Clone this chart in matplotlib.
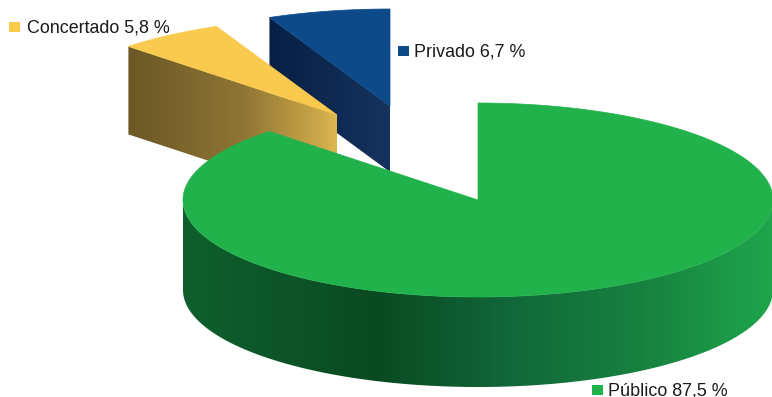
import numpy as np
import matplotlib
matplotlib.use("Agg")
import matplotlib.pyplot as plt
from matplotlib.colors import LinearSegmentedColormap as LSC
from matplotlib.patches import Polygon, Rectangle

labels = ["Público", "Concertado", "Privado"]
values = [87.5, 5.8, 6.7]
value_labels = ["87,5 %", "5,8 %", "6,7 %"]

TOP = {"Público": "#22b24c", "Concertado": "#f9ca4d", "Privado": "#0c4a8a"}
SIDE = {
    "Público": [(0, "#0f5f2e"), (.33, "#0a4a22"), (.55, "#11673a"), (.78, "#17823f"), (1, "#1fa54d")],
    "Concertado": [(0, "#6b5826"), (.55, "#8f7535"), (.9, "#c9a548"), (1, "#dcb64f")],
    "Privado": [(0, "#071f44"), (1, "#16335e")],
}
CENTRES = {"Público": (478, 200), "Concertado": (337, 115), "Privado": (390, 106)}
DEPTH = {"Público": 90, "Concertado": 88, "Privado": 66}
RX, RY = 295, 97
LABEL_POS = {"Público": (592, 390), "Concertado": (9, 27), "Privado": (398, 51)}
LABEL_GAP = {"Público": 16, "Concertado": 18, "Privado": 16}

fig = plt.figure(figsize=(7.72, 3.97), dpi=100)
ax = fig.add_axes([0, 0, 1, 1])
ax.set_axis_off()


def rim(c, a0, a1, n=200):
    """Clockwise degrees from 12 o'clock, projected on the tilted ellipse."""
    t = np.radians(np.linspace(a0, a1, n))
    return np.column_stack([c[0] + RX * np.sin(t), c[1] - RY * np.cos(t)])


def gradient(poly, stops, x0, x1, z):
    cmap = LSC.from_list("g", stops)
    patch = Polygon(poly, closed=True, fc="none", ec="none", zorder=z)
    ax.add_patch(patch)
    ys = poly[:, 1]
    im = ax.imshow(np.linspace(0, 1, 256).reshape(1, -1), cmap=cmap, aspect="auto",
                   extent=(x0, x1, ys.max(), ys.min()), zorder=z, interpolation="bilinear")
    im.set_clip_path(patch)


ends = np.cumsum([0] + values) * 3.6
angles = {n: (ends[i], ends[i + 1]) for i, n in enumerate(labels)}

for z, name in zip((1, 2), ("Privado", "Concertado")):
    c, d = np.array(CENTRES[name], float), DEPTH[name]
    a0, a1 = angles[name]
    outer = rim(c, a0, a0, 1)[0]
    # radial face seen from the front, from rim to apex, extruded down by the depth
    face = np.array([outer, c, c + [0, d], outer + [0, d]])
    gradient(face, SIDE[name], outer[0], c[0], z)
    top = np.vstack([c, rim(c, a0, a1)])
    ax.add_patch(Polygon(top, closed=True, fc=TOP[name], ec=TOP[name], lw=.5, zorder=z + .1))

name = "Público"
c, d = np.array(CENTRES[name], float), DEPTH[name]
front = rim(c, 90, 270)
side = np.vstack([front, (front + [0, d])[::-1]])
gradient(side, SIDE[name], c[0] - RX, c[0] + RX, 3)
a0, a1 = angles[name]
ax.add_patch(Polygon(np.vstack([c, rim(c, a0, a1, 500)]), closed=True,
                     fc=TOP[name], ec=TOP[name], lw=.5, zorder=4))

for name, val in zip(labels, value_labels):
    x, y = LABEL_POS[name]
    ax.add_patch(Rectangle((x, y - 5), 11, 10, fc=TOP[name], ec="none", zorder=5))
    ax.text(x + LABEL_GAP[name], y + 1, f"{name} {val}", family="Liberation Sans", fontsize=12.85,
            color="#1a1a1a", va="center", ha="left", zorder=5)

ax.set_xlim(0, 772)
ax.set_ylim(397, 0)
fig.savefig("out.png", dpi=100)
